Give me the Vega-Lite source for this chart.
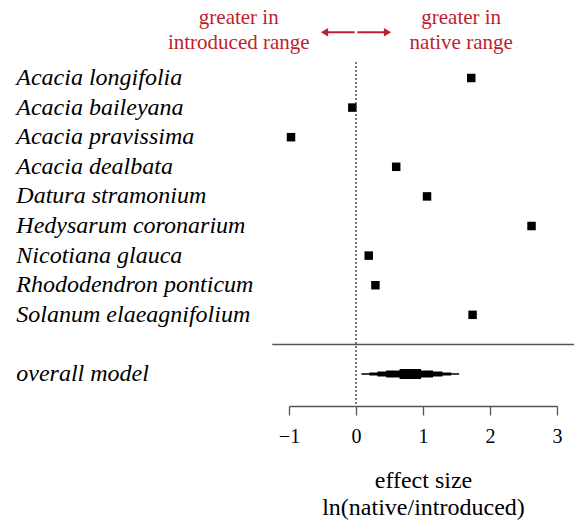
{
  "$schema": "https://vega.github.io/schema/vega-lite/v6.json",
  "width": 268,
  "height": 344,
  "autosize": "none",
  "padding": {"left": 289, "top": 62, "right": 17, "bottom": 115},
  "background": "white",
  "config": {
    "view": {"stroke": null},
    "font": "Liberation Serif",
    "axisY": {"disable": true}
  },
  "datasets": {
    "species": [
      {"species": "Acacia longifolia", "row": 0, "effect": 1.72},
      {"species": "Acacia baileyana", "row": 1, "effect": -0.055},
      {"species": "Acacia pravissima", "row": 2, "effect": -0.97},
      {"species": "Acacia dealbata", "row": 3, "effect": 0.6},
      {"species": "Datura stramonium", "row": 4, "effect": 1.06},
      {"species": "Hedysarum coronarium", "row": 5, "effect": 2.62},
      {"species": "Nicotiana glauca", "row": 6, "effect": 0.19},
      {"species": "Rhododendron ponticum", "row": 7, "effect": 0.29},
      {"species": "Solanum elaeagnifolium", "row": 8, "effect": 1.74}
    ],
    "overall": [
      {"row": 10, "lo": 0.08, "hi": 1.54, "density": 0.12},
      {"row": 10, "lo": 0.2, "hi": 1.42, "density": 0.27},
      {"row": 10, "lo": 0.32, "hi": 1.29, "density": 0.45},
      {"row": 10, "lo": 0.45, "hi": 1.15, "density": 0.64},
      {"row": 10, "lo": 0.65, "hi": 0.97, "density": 0.91}
    ]
  },
  "layer": [
    {
      "data": {"name": "species"},
      "mark": {"type": "point", "shape": "square", "filled": true, "color": "black", "size": 72, "opacity": 1},
      "encoding": {
        "x": {
          "field": "effect", "type": "quantitative",
          "scale": {"domain": [-1, 3], "nice": false, "zero": false},
          "axis": {
            "values": [-1, 0, 1, 2, 3], "format": "d", "grid": false,
            "domainColor": "#555", "domainWidth": 1.3, "tickColor": "#555", "tickSize": 9, "tickWidth": 1.3,
            "labelFont": "Liberation Serif",
            "labelFontSize": 20, "labelPadding": 11, "labelColor": "black", "labelFlush": false,
            "title": ["effect size", "ln(native/introduced)"], "titleFont": "Liberation Serif", "titleFontSize": 24, "titleFontWeight": "normal",
            "titleColor": "black", "titlePadding": 22, "titleLineHeight": 27
          }
        },
        "y": {
          "field": "row", "type": "quantitative",
          "scale": {"domain": [-0.54, 11.08], "reverse": true, "nice": false, "zero": false},
          "axis": null
        }
      }
    },
    {
      "data": {"name": "species"},
      "mark": {"type": "text", "align": "left", "baseline": "middle", "fontSize": 24, "fontStyle": "italic", "font": "Liberation Serif", "color": "black"},
      "encoding": {
        "x": {"datum": -5.07, "type": "quantitative"},
        "y": {"field": "row", "type": "quantitative", "axis": null},
        "text": {"field": "species"}
      }
    },
    {
      "data": {"values": [{}]},
      "mark": {"type": "text", "align": "left", "baseline": "middle", "fontSize": 24, "fontStyle": "italic", "font": "Liberation Serif", "color": "black"},
      "encoding": {
        "x": {"datum": -5.07, "type": "quantitative"},
        "y": {"datum": 10, "type": "quantitative"},
        "text": {"value": "overall model"}
      }
    },
    {
      "data": {"values": [{}]},
      "mark": {"type": "rule", "strokeDash": [2, 2], "color": "#333", "strokeWidth": 1.3},
      "encoding": {"x": {"datum": 0, "type": "quantitative"}}
    },
    {
      "data": {"values": [{}]},
      "mark": {"type": "rule", "color": "#555", "strokeWidth": 1.5},
      "encoding": {
        "x": {"datum": -1.25, "type": "quantitative"},
        "x2": {"datum": 3.3},
        "y": {"datum": 9, "type": "quantitative"}
      }
    },
    {
      "data": {"name": "overall"},
      "mark": {"type": "rule", "color": "black"},
      "encoding": {
        "x": {"field": "lo", "type": "quantitative"},
        "x2": {"field": "hi"},
        "y": {"field": "row", "type": "quantitative", "axis": null},
        "size": {
          "field": "density", "type": "quantitative",
          "scale": {"domain": [0, 1], "range": [0, 11], "zero": true},
          "legend": null
        }
      }
    },
    {
      "data": {"values": [{}]},
      "mark": {"type": "text", "color": "#bf1e2e", "fontSize": 21, "lineHeight": 25, "align": "center", "baseline": "middle", "font": "Liberation Serif"},
      "encoding": {
        "x": {"datum": -1.75, "type": "quantitative"},
        "y": {"datum": -2.03, "type": "quantitative"},
        "text": {"value": ["greater in", "introduced range"]}
      }
    },
    {
      "data": {"values": [{}]},
      "mark": {"type": "text", "color": "#bf1e2e", "fontSize": 21, "lineHeight": 25, "align": "center", "baseline": "middle", "font": "Liberation Serif"},
      "encoding": {
        "x": {"datum": 1.57, "type": "quantitative"},
        "y": {"datum": -2.03, "type": "quantitative"},
        "text": {"value": ["greater in", "native range"]}
      }
    },
    {
      "data": {"values": [{}]},
      "mark": {"type": "rule", "color": "#bf1e2e", "strokeWidth": 2},
      "encoding": {
        "x": {"datum": -0.02, "type": "quantitative"},
        "x2": {"datum": -0.46},
        "y": {"datum": -1.544, "type": "quantitative"}
      }
    },
    {
      "data": {"values": [{}]},
      "mark": {"type": "rule", "color": "#bf1e2e", "strokeWidth": 2},
      "encoding": {
        "x": {"datum": 0.02, "type": "quantitative"},
        "x2": {"datum": 0.46},
        "y": {"datum": -1.544, "type": "quantitative"}
      }
    },
    {
      "data": {"values": [{}]},
      "mark": {"type": "point", "shape": "triangle-left", "filled": true, "color": "#bf1e2e", "size": 70, "opacity": 1},
      "encoding": {
        "x": {"datum": -0.47, "type": "quantitative"},
        "y": {"datum": -1.544, "type": "quantitative"}
      }
    },
    {
      "data": {"values": [{}]},
      "mark": {"type": "point", "shape": "triangle-right", "filled": true, "color": "#bf1e2e", "size": 70, "opacity": 1},
      "encoding": {
        "x": {"datum": 0.47, "type": "quantitative"},
        "y": {"datum": -1.544, "type": "quantitative"}
      }
    }
  ]
}
